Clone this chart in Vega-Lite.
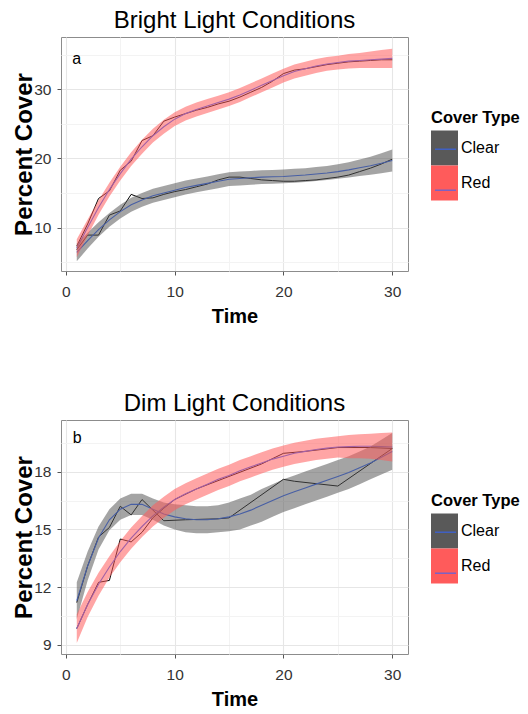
{
  "$schema": "https://vega.github.io/schema/vega-lite/v6.json",
  "background": "white",
  "padding": {"left": 12, "top": 8, "right": 5, "bottom": 4},
  "spacing": 64,
  "config": {
    "font": "Liberation Sans",
    "view": {"stroke": "#8c8c8c", "strokeWidth": 1},
    "axis": {
      "domain": false,
      "labelFont": "Liberation Sans",
      "labelFontSize": 15.5,
      "labelColor": "#333333",
      "tickColor": "#555555",
      "tickSize": 4,
      "labelFlush": false,
      "labelOverlap": false,
      "titleFont": "Liberation Sans",
      "titleFontWeight": "bold",
      "titleColor": "black",
      "gridWidth": 1.1
    },
    "title": {"font": "Liberation Sans", "fontSize": 24, "fontWeight": "normal", "color": "black", "anchor": "middle", "frame": "group", "offset": 4}
  },
  "datasets": {
    "rawA": [
      {"t": 1, "cover": "Clear", "v": 6.8}, {"t": 2, "cover": "Clear", "v": 8.9}, {"t": 3, "cover": "Clear", "v": 8.9}, {"t": 4, "cover": "Clear", "v": 11.8}, {"t": 5, "cover": "Clear", "v": 12.4}, {"t": 6, "cover": "Clear", "v": 14.8}, {"t": 7, "cover": "Clear", "v": 14.2}, {"t": 8, "cover": "Clear", "v": 14.3}, {"t": 9, "cover": "Clear", "v": 14.8}, {"t": 10, "cover": "Clear", "v": 15.2}, {"t": 11, "cover": "Clear", "v": 15.5}, {"t": 12, "cover": "Clear", "v": 15.9}, {"t": 13, "cover": "Clear", "v": 16.3}, {"t": 14, "cover": "Clear", "v": 16.9}, {"t": 15, "cover": "Clear", "v": 17.3}, {"t": 16, "cover": "Clear", "v": 17.3}, {"t": 17, "cover": "Clear", "v": 17.1}, {"t": 18, "cover": "Clear", "v": 16.9}, {"t": 19, "cover": "Clear", "v": 16.8}, {"t": 20, "cover": "Clear", "v": 16.7}, {"t": 21, "cover": "Clear", "v": 16.7}, {"t": 22, "cover": "Clear", "v": 16.8}, {"t": 23, "cover": "Clear", "v": 16.9}, {"t": 24, "cover": "Clear", "v": 17.1}, {"t": 25, "cover": "Clear", "v": 17.3}, {"t": 26, "cover": "Clear", "v": 17.6}, {"t": 27, "cover": "Clear", "v": 18.1}, {"t": 28, "cover": "Clear", "v": 18.6}, {"t": 29, "cover": "Clear", "v": 19.2}, {"t": 30, "cover": "Clear", "v": 19.9},
      {"t": 1, "cover": "Red", "v": 7.3}, {"t": 2, "cover": "Red", "v": 10.5}, {"t": 3, "cover": "Red", "v": 14.2}, {"t": 4, "cover": "Red", "v": 15.3}, {"t": 5, "cover": "Red", "v": 18.3}, {"t": 6, "cover": "Red", "v": 19.6}, {"t": 7, "cover": "Red", "v": 22.6}, {"t": 8, "cover": "Red", "v": 23.3}, {"t": 9, "cover": "Red", "v": 25.4}, {"t": 10, "cover": "Red", "v": 26.0}, {"t": 11, "cover": "Red", "v": 26.5}, {"t": 12, "cover": "Red", "v": 27.0}, {"t": 13, "cover": "Red", "v": 27.4}, {"t": 14, "cover": "Red", "v": 27.9}, {"t": 15, "cover": "Red", "v": 28.3}, {"t": 16, "cover": "Red", "v": 28.9}, {"t": 17, "cover": "Red", "v": 29.6}, {"t": 18, "cover": "Red", "v": 30.3}, {"t": 19, "cover": "Red", "v": 31.2}, {"t": 20, "cover": "Red", "v": 32.3}, {"t": 21, "cover": "Red", "v": 32.8}, {"t": 22, "cover": "Red", "v": 33.0}, {"t": 23, "cover": "Red", "v": 33.3}, {"t": 24, "cover": "Red", "v": 33.6}, {"t": 25, "cover": "Red", "v": 33.8}, {"t": 26, "cover": "Red", "v": 34.0}, {"t": 27, "cover": "Red", "v": 34.1}, {"t": 28, "cover": "Red", "v": 34.2}, {"t": 29, "cover": "Red", "v": 34.3}, {"t": 30, "cover": "Red", "v": 34.3}
    ],
    "fitA": [
      {"t": 1, "cover": "Clear", "fit": 6.4}, {"t": 2, "cover": "Clear", "fit": 8.1}, {"t": 3, "cover": "Clear", "fit": 9.7}, {"t": 4, "cover": "Clear", "fit": 11.1}, {"t": 5, "cover": "Clear", "fit": 12.3}, {"t": 6, "cover": "Clear", "fit": 13.3}, {"t": 7, "cover": "Clear", "fit": 14.0}, {"t": 8, "cover": "Clear", "fit": 14.6}, {"t": 9, "cover": "Clear", "fit": 15.0}, {"t": 10, "cover": "Clear", "fit": 15.4}, {"t": 11, "cover": "Clear", "fit": 15.8}, {"t": 12, "cover": "Clear", "fit": 16.1}, {"t": 13, "cover": "Clear", "fit": 16.4}, {"t": 14, "cover": "Clear", "fit": 16.7}, {"t": 15, "cover": "Clear", "fit": 17.0}, {"t": 16, "cover": "Clear", "fit": 17.1}, {"t": 17, "cover": "Clear", "fit": 17.2}, {"t": 18, "cover": "Clear", "fit": 17.3}, {"t": 19, "cover": "Clear", "fit": 17.35}, {"t": 20, "cover": "Clear", "fit": 17.4}, {"t": 21, "cover": "Clear", "fit": 17.5}, {"t": 22, "cover": "Clear", "fit": 17.6}, {"t": 23, "cover": "Clear", "fit": 17.75}, {"t": 24, "cover": "Clear", "fit": 17.9}, {"t": 25, "cover": "Clear", "fit": 18.1}, {"t": 26, "cover": "Clear", "fit": 18.35}, {"t": 27, "cover": "Clear", "fit": 18.65}, {"t": 28, "cover": "Clear", "fit": 18.95}, {"t": 29, "cover": "Clear", "fit": 19.3}, {"t": 30, "cover": "Clear", "fit": 19.7},
      {"t": 1, "cover": "Red", "fit": 7.0}, {"t": 2, "cover": "Red", "fit": 10.0}, {"t": 3, "cover": "Red", "fit": 12.9}, {"t": 4, "cover": "Red", "fit": 15.5}, {"t": 5, "cover": "Red", "fit": 17.8}, {"t": 6, "cover": "Red", "fit": 19.9}, {"t": 7, "cover": "Red", "fit": 21.7}, {"t": 8, "cover": "Red", "fit": 23.3}, {"t": 9, "cover": "Red", "fit": 24.6}, {"t": 10, "cover": "Red", "fit": 25.7}, {"t": 11, "cover": "Red", "fit": 26.5}, {"t": 12, "cover": "Red", "fit": 27.1}, {"t": 13, "cover": "Red", "fit": 27.6}, {"t": 14, "cover": "Red", "fit": 28.1}, {"t": 15, "cover": "Red", "fit": 28.6}, {"t": 16, "cover": "Red", "fit": 29.2}, {"t": 17, "cover": "Red", "fit": 29.9}, {"t": 18, "cover": "Red", "fit": 30.6}, {"t": 19, "cover": "Red", "fit": 31.3}, {"t": 20, "cover": "Red", "fit": 32.0}, {"t": 21, "cover": "Red", "fit": 32.6}, {"t": 22, "cover": "Red", "fit": 33.0}, {"t": 23, "cover": "Red", "fit": 33.4}, {"t": 24, "cover": "Red", "fit": 33.7}, {"t": 25, "cover": "Red", "fit": 33.9}, {"t": 26, "cover": "Red", "fit": 34.1}, {"t": 27, "cover": "Red", "fit": 34.2}, {"t": 28, "cover": "Red", "fit": 34.3}, {"t": 29, "cover": "Red", "fit": 34.4}, {"t": 30, "cover": "Red", "fit": 34.5}
    ],
    "ribbonA": [
      {"t": 1, "cover": "Clear", "lo": 5.1, "hi": 7.7}, {"t": 2, "cover": "Clear", "lo": 6.95, "hi": 9.25}, {"t": 3, "cover": "Clear", "lo": 8.65, "hi": 10.75}, {"t": 4, "cover": "Clear", "lo": 10.1, "hi": 12.1}, {"t": 5, "cover": "Clear", "lo": 11.3, "hi": 13.3}, {"t": 6, "cover": "Clear", "lo": 12.3, "hi": 14.3}, {"t": 7, "cover": "Clear", "lo": 13.0, "hi": 15.0}, {"t": 8, "cover": "Clear", "lo": 13.6, "hi": 15.6}, {"t": 9, "cover": "Clear", "lo": 14.0, "hi": 16.0}, {"t": 10, "cover": "Clear", "lo": 14.4, "hi": 16.4}, {"t": 11, "cover": "Clear", "lo": 14.8, "hi": 16.8}, {"t": 12, "cover": "Clear", "lo": 15.1, "hi": 17.1}, {"t": 13, "cover": "Clear", "lo": 15.4, "hi": 17.4}, {"t": 14, "cover": "Clear", "lo": 15.7, "hi": 17.7}, {"t": 15, "cover": "Clear", "lo": 16.0, "hi": 18.0}, {"t": 16, "cover": "Clear", "lo": 16.1, "hi": 18.1}, {"t": 17, "cover": "Clear", "lo": 16.2, "hi": 18.2}, {"t": 18, "cover": "Clear", "lo": 16.3, "hi": 18.3}, {"t": 19, "cover": "Clear", "lo": 16.35, "hi": 18.35}, {"t": 20, "cover": "Clear", "lo": 16.4, "hi": 18.4}, {"t": 21, "cover": "Clear", "lo": 16.5, "hi": 18.5}, {"t": 22, "cover": "Clear", "lo": 16.6, "hi": 18.6}, {"t": 23, "cover": "Clear", "lo": 16.75, "hi": 18.75}, {"t": 24, "cover": "Clear", "lo": 16.9, "hi": 18.9}, {"t": 25, "cover": "Clear", "lo": 17.05, "hi": 19.15}, {"t": 26, "cover": "Clear", "lo": 17.25, "hi": 19.45}, {"t": 27, "cover": "Clear", "lo": 17.45, "hi": 19.85}, {"t": 28, "cover": "Clear", "lo": 17.65, "hi": 20.25}, {"t": 29, "cover": "Clear", "lo": 17.85, "hi": 20.75}, {"t": 30, "cover": "Clear", "lo": 18.1, "hi": 21.3},
      {"t": 1, "cover": "Red", "lo": 5.7, "hi": 8.3}, {"t": 2, "cover": "Red", "lo": 8.85, "hi": 11.15}, {"t": 3, "cover": "Red", "lo": 11.85, "hi": 13.95}, {"t": 4, "cover": "Red", "lo": 14.5, "hi": 16.5}, {"t": 5, "cover": "Red", "lo": 16.8, "hi": 18.8}, {"t": 6, "cover": "Red", "lo": 18.9, "hi": 20.9}, {"t": 7, "cover": "Red", "lo": 20.7, "hi": 22.7}, {"t": 8, "cover": "Red", "lo": 22.3, "hi": 24.3}, {"t": 9, "cover": "Red", "lo": 23.6, "hi": 25.6}, {"t": 10, "cover": "Red", "lo": 24.7, "hi": 26.7}, {"t": 11, "cover": "Red", "lo": 25.5, "hi": 27.5}, {"t": 12, "cover": "Red", "lo": 26.1, "hi": 28.1}, {"t": 13, "cover": "Red", "lo": 26.6, "hi": 28.6}, {"t": 14, "cover": "Red", "lo": 27.1, "hi": 29.1}, {"t": 15, "cover": "Red", "lo": 27.6, "hi": 29.6}, {"t": 16, "cover": "Red", "lo": 28.2, "hi": 30.2}, {"t": 17, "cover": "Red", "lo": 28.9, "hi": 30.9}, {"t": 18, "cover": "Red", "lo": 29.6, "hi": 31.6}, {"t": 19, "cover": "Red", "lo": 30.3, "hi": 32.3}, {"t": 20, "cover": "Red", "lo": 31.0, "hi": 33.0}, {"t": 21, "cover": "Red", "lo": 31.6, "hi": 33.6}, {"t": 22, "cover": "Red", "lo": 32.0, "hi": 34.0}, {"t": 23, "cover": "Red", "lo": 32.4, "hi": 34.4}, {"t": 24, "cover": "Red", "lo": 32.7, "hi": 34.7}, {"t": 25, "cover": "Red", "lo": 32.9, "hi": 34.9}, {"t": 26, "cover": "Red", "lo": 33.05, "hi": 35.15}, {"t": 27, "cover": "Red", "lo": 33.1, "hi": 35.3}, {"t": 28, "cover": "Red", "lo": 33.1, "hi": 35.5}, {"t": 29, "cover": "Red", "lo": 33.1, "hi": 35.7}, {"t": 30, "cover": "Red", "lo": 33.1, "hi": 35.9}
    ],
    "labelA": [{"t": 1, "v": 34.4, "label": "a"}],
    "rawB": [
      {"t": 1, "cover": "Clear", "v": 11.2}, {"t": 2, "cover": "Clear", "v": 13.1}, {"t": 3, "cover": "Clear", "v": 14.6}, {"t": 4, "cover": "Clear", "v": 15.1}, {"t": 5, "cover": "Clear", "v": 16.2}, {"t": 6, "cover": "Clear", "v": 15.75}, {"t": 7, "cover": "Clear", "v": 16.55}, {"t": 9, "cover": "Clear", "v": 15.45}, {"t": 11, "cover": "Clear", "v": 15.5}, {"t": 14, "cover": "Clear", "v": 15.55}, {"t": 15, "cover": "Clear", "v": 15.6}, {"t": 20, "cover": "Clear", "v": 17.6}, {"t": 21, "cover": "Clear", "v": 17.5}, {"t": 25, "cover": "Clear", "v": 17.25}, {"t": 30, "cover": "Clear", "v": 19.2},
      {"t": 1, "cover": "Red", "v": 9.85}, {"t": 2, "cover": "Red", "v": 11.1}, {"t": 3, "cover": "Red", "v": 12.25}, {"t": 4, "cover": "Red", "v": 12.35}, {"t": 5, "cover": "Red", "v": 14.5}, {"t": 6, "cover": "Red", "v": 14.35}, {"t": 7, "cover": "Red", "v": 14.85}, {"t": 8, "cover": "Red", "v": 15.6}, {"t": 9, "cover": "Red", "v": 16.1}, {"t": 10, "cover": "Red", "v": 16.55}, {"t": 12, "cover": "Red", "v": 17.1}, {"t": 15, "cover": "Red", "v": 17.75}, {"t": 18, "cover": "Red", "v": 18.4}, {"t": 20, "cover": "Red", "v": 18.95}, {"t": 22, "cover": "Red", "v": 19.05}, {"t": 25, "cover": "Red", "v": 19.25}, {"t": 28, "cover": "Red", "v": 19.25}, {"t": 30, "cover": "Red", "v": 19.2}
    ],
    "fitB": [
      {"t": 1, "cover": "Clear", "fit": 11.3}, {"t": 2, "cover": "Clear", "fit": 13.1}, {"t": 3, "cover": "Clear", "fit": 14.55}, {"t": 4, "cover": "Clear", "fit": 15.5}, {"t": 5, "cover": "Clear", "fit": 16.05}, {"t": 6, "cover": "Clear", "fit": 16.3}, {"t": 7, "cover": "Clear", "fit": 16.3}, {"t": 8, "cover": "Clear", "fit": 16.05}, {"t": 9, "cover": "Clear", "fit": 15.8}, {"t": 10, "cover": "Clear", "fit": 15.65}, {"t": 11, "cover": "Clear", "fit": 15.55}, {"t": 12, "cover": "Clear", "fit": 15.5}, {"t": 13, "cover": "Clear", "fit": 15.5}, {"t": 14, "cover": "Clear", "fit": 15.55}, {"t": 15, "cover": "Clear", "fit": 15.65}, {"t": 16, "cover": "Clear", "fit": 15.8}, {"t": 17, "cover": "Clear", "fit": 16.0}, {"t": 18, "cover": "Clear", "fit": 16.25}, {"t": 19, "cover": "Clear", "fit": 16.5}, {"t": 20, "cover": "Clear", "fit": 16.75}, {"t": 21, "cover": "Clear", "fit": 16.95}, {"t": 22, "cover": "Clear", "fit": 17.15}, {"t": 23, "cover": "Clear", "fit": 17.35}, {"t": 24, "cover": "Clear", "fit": 17.55}, {"t": 25, "cover": "Clear", "fit": 17.75}, {"t": 26, "cover": "Clear", "fit": 17.95}, {"t": 27, "cover": "Clear", "fit": 18.2}, {"t": 28, "cover": "Clear", "fit": 18.45}, {"t": 29, "cover": "Clear", "fit": 18.75}, {"t": 30, "cover": "Clear", "fit": 19.05},
      {"t": 1, "cover": "Red", "fit": 9.85}, {"t": 2, "cover": "Red", "fit": 11.1}, {"t": 3, "cover": "Red", "fit": 12.15}, {"t": 4, "cover": "Red", "fit": 13.05}, {"t": 5, "cover": "Red", "fit": 13.85}, {"t": 6, "cover": "Red", "fit": 14.55}, {"t": 7, "cover": "Red", "fit": 15.15}, {"t": 8, "cover": "Red", "fit": 15.7}, {"t": 9, "cover": "Red", "fit": 16.15}, {"t": 10, "cover": "Red", "fit": 16.55}, {"t": 11, "cover": "Red", "fit": 16.85}, {"t": 12, "cover": "Red", "fit": 17.1}, {"t": 13, "cover": "Red", "fit": 17.35}, {"t": 14, "cover": "Red", "fit": 17.6}, {"t": 15, "cover": "Red", "fit": 17.8}, {"t": 16, "cover": "Red", "fit": 18.05}, {"t": 17, "cover": "Red", "fit": 18.25}, {"t": 18, "cover": "Red", "fit": 18.45}, {"t": 19, "cover": "Red", "fit": 18.65}, {"t": 20, "cover": "Red", "fit": 18.8}, {"t": 21, "cover": "Red", "fit": 18.95}, {"t": 22, "cover": "Red", "fit": 19.05}, {"t": 23, "cover": "Red", "fit": 19.15}, {"t": 24, "cover": "Red", "fit": 19.22}, {"t": 25, "cover": "Red", "fit": 19.28}, {"t": 26, "cover": "Red", "fit": 19.3}, {"t": 27, "cover": "Red", "fit": 19.32}, {"t": 28, "cover": "Red", "fit": 19.32}, {"t": 29, "cover": "Red", "fit": 19.3}, {"t": 30, "cover": "Red", "fit": 19.28}
    ],
    "ribbonB": [
      {"t": 1, "cover": "Clear", "lo": 10.35, "hi": 12.25}, {"t": 2, "cover": "Clear", "lo": 12.35, "hi": 13.85}, {"t": 3, "cover": "Clear", "lo": 13.95, "hi": 15.15}, {"t": 4, "cover": "Clear", "lo": 14.95, "hi": 16.05}, {"t": 5, "cover": "Clear", "lo": 15.5, "hi": 16.6}, {"t": 6, "cover": "Clear", "lo": 15.75, "hi": 16.85}, {"t": 7, "cover": "Clear", "lo": 15.75, "hi": 16.85}, {"t": 8, "cover": "Clear", "lo": 15.5, "hi": 16.6}, {"t": 9, "cover": "Clear", "lo": 15.2, "hi": 16.4}, {"t": 10, "cover": "Clear", "lo": 15.0, "hi": 16.3}, {"t": 11, "cover": "Clear", "lo": 14.85, "hi": 16.25}, {"t": 12, "cover": "Clear", "lo": 14.8, "hi": 16.2}, {"t": 13, "cover": "Clear", "lo": 14.8, "hi": 16.2}, {"t": 14, "cover": "Clear", "lo": 14.85, "hi": 16.25}, {"t": 15, "cover": "Clear", "lo": 14.9, "hi": 16.4}, {"t": 16, "cover": "Clear", "lo": 15.0, "hi": 16.6}, {"t": 17, "cover": "Clear", "lo": 15.2, "hi": 16.8}, {"t": 18, "cover": "Clear", "lo": 15.4, "hi": 17.1}, {"t": 19, "cover": "Clear", "lo": 15.65, "hi": 17.35}, {"t": 20, "cover": "Clear", "lo": 15.9, "hi": 17.6}, {"t": 21, "cover": "Clear", "lo": 16.1, "hi": 17.8}, {"t": 22, "cover": "Clear", "lo": 16.3, "hi": 18.0}, {"t": 23, "cover": "Clear", "lo": 16.5, "hi": 18.2}, {"t": 24, "cover": "Clear", "lo": 16.7, "hi": 18.4}, {"t": 25, "cover": "Clear", "lo": 16.9, "hi": 18.6}, {"t": 26, "cover": "Clear", "lo": 17.1, "hi": 18.8}, {"t": 27, "cover": "Clear", "lo": 17.35, "hi": 19.05}, {"t": 28, "cover": "Clear", "lo": 17.6, "hi": 19.3}, {"t": 29, "cover": "Clear", "lo": 17.85, "hi": 19.65}, {"t": 30, "cover": "Clear", "lo": 18.1, "hi": 20.0},
      {"t": 1, "cover": "Red", "lo": 9.1, "hi": 10.6}, {"t": 2, "cover": "Red", "lo": 10.45, "hi": 11.75}, {"t": 3, "cover": "Red", "lo": 11.55, "hi": 12.75}, {"t": 4, "cover": "Red", "lo": 12.5, "hi": 13.6}, {"t": 5, "cover": "Red", "lo": 13.3, "hi": 14.4}, {"t": 6, "cover": "Red", "lo": 14.0, "hi": 15.1}, {"t": 7, "cover": "Red", "lo": 14.6, "hi": 15.7}, {"t": 8, "cover": "Red", "lo": 15.15, "hi": 16.25}, {"t": 9, "cover": "Red", "lo": 15.6, "hi": 16.7}, {"t": 10, "cover": "Red", "lo": 16.0, "hi": 17.1}, {"t": 11, "cover": "Red", "lo": 16.3, "hi": 17.4}, {"t": 12, "cover": "Red", "lo": 16.55, "hi": 17.65}, {"t": 13, "cover": "Red", "lo": 16.8, "hi": 17.9}, {"t": 14, "cover": "Red", "lo": 17.05, "hi": 18.15}, {"t": 15, "cover": "Red", "lo": 17.25, "hi": 18.35}, {"t": 16, "cover": "Red", "lo": 17.5, "hi": 18.6}, {"t": 17, "cover": "Red", "lo": 17.7, "hi": 18.8}, {"t": 18, "cover": "Red", "lo": 17.9, "hi": 19.0}, {"t": 19, "cover": "Red", "lo": 18.1, "hi": 19.2}, {"t": 20, "cover": "Red", "lo": 18.25, "hi": 19.35}, {"t": 21, "cover": "Red", "lo": 18.4, "hi": 19.5}, {"t": 22, "cover": "Red", "lo": 18.5, "hi": 19.6}, {"t": 23, "cover": "Red", "lo": 18.6, "hi": 19.7}, {"t": 24, "cover": "Red", "lo": 18.67, "hi": 19.77}, {"t": 25, "cover": "Red", "lo": 18.73, "hi": 19.83}, {"t": 26, "cover": "Red", "lo": 18.7, "hi": 19.9}, {"t": 27, "cover": "Red", "lo": 18.7, "hi": 19.94}, {"t": 28, "cover": "Red", "lo": 18.67, "hi": 19.97}, {"t": 29, "cover": "Red", "lo": 18.6, "hi": 20.0}, {"t": 30, "cover": "Red", "lo": 18.53, "hi": 20.03}
    ],
    "labelB": [{"t": 1.04, "v": 19.75, "label": "b"}]
  },
  "resolve": {"scale": {"fill": "independent", "stroke": "independent"}},
  "vconcat": [
    {
      "title": {"text": "Bright Light Conditions"},
      "width": 347,
      "height": 234,
      "encoding": {
        "x": {"field": "t", "type": "quantitative", "scale": {"domain": [-0.45, 31.45], "nice": false, "zero": false},
          "axis": {"title": "Time", "values": [0, 5, 10, 15, 20, 25, 30], "labelExpr": "datum.value % 10 === 0 ? datum.label : ''",
            "tickOpacity": {"condition": {"test": "datum.value % 10 === 0", "value": 1}, "value": 0},
            "gridColor": {"condition": {"test": "datum.value % 10 === 0", "value": "#e6e6e6"}, "value": "#f3f3f3"},
            "labelPadding": 9, "titlePadding": 7, "titleFontSize": 20}}
      },
      "layer": [
        {"data": {"name": "rawA"}, "mark": {"type": "line", "color": "black", "strokeWidth": 1},
          "encoding": {"y": {"field": "v", "type": "quantitative", "scale": {"domain": [3.7, 37.6], "nice": false, "zero": false},
            "axis": {"title": "Percent Cover", "values": [5, 10, 15, 20, 25, 30, 35], "labelExpr": "(datum.value === 10 || datum.value === 20 || datum.value === 30) ? datum.label : ''",
              "tickOpacity": {"condition": {"test": "datum.value === 10 || datum.value === 20 || datum.value === 30", "value": 1}, "value": 0},
              "gridColor": {"condition": {"test": "datum.value === 10 || datum.value === 20 || datum.value === 30", "value": "#e6e6e6"}, "value": "#f3f3f3"},
              "labelPadding": 6, "titlePadding": -3, "titleFontSize": 24}},
            "detail": {"field": "cover"}}},
        {"data": {"name": "fitA"}, "mark": {"type": "line", "strokeWidth": 1.1},
          "encoding": {"y": {"field": "fit", "type": "quantitative", "scale": {"domain": [3.7, 37.6], "nice": false, "zero": false},
            "axis": {"title": "Percent Cover", "values": [5, 10, 15, 20, 25, 30, 35], "labelExpr": "(datum.value === 10 || datum.value === 20 || datum.value === 30) ? datum.label : ''",
              "tickOpacity": {"condition": {"test": "datum.value === 10 || datum.value === 20 || datum.value === 30", "value": 1}, "value": 0},
              "gridColor": {"condition": {"test": "datum.value === 10 || datum.value === 20 || datum.value === 30", "value": "#e6e6e6"}, "value": "#f3f3f3"},
              "labelPadding": 6, "titlePadding": -3, "titleFontSize": 24}},
            "stroke": {"field": "cover", "type": "nominal", "scale": {"range": ["#3366FF", "#3366FF"]},
              "legend": {"title": null, "orient": "none", "legendX": 370, "legendY": 93.7, "zindex": 5, "symbolType": "M-0.83,-1M-0.83,1M-0.83,0H0.37", "symbolSize": 1225, "symbolStrokeWidth": 1.3, "symbolFillColor": "transparent", "symbolOpacity": 0.75, "rowPadding": 0, "padding": 0, "labelExpr": "''"}}}},
        {"data": {"name": "ribbonA"}, "mark": {"type": "area", "opacity": 0.55},
          "encoding": {"y": {"field": "lo", "type": "quantitative", "scale": {"domain": [3.7, 37.6], "nice": false, "zero": false},
            "axis": {"title": "Percent Cover", "values": [5, 10, 15, 20, 25, 30, 35], "labelExpr": "(datum.value === 10 || datum.value === 20 || datum.value === 30) ? datum.label : ''",
              "tickOpacity": {"condition": {"test": "datum.value === 10 || datum.value === 20 || datum.value === 30", "value": 1}, "value": 0},
              "gridColor": {"condition": {"test": "datum.value === 10 || datum.value === 20 || datum.value === 30", "value": "#e6e6e6"}, "value": "#f3f3f3"},
              "labelPadding": 6, "titlePadding": -3, "titleFontSize": 24}},
            "y2": {"field": "hi"},
            "fill": {"field": "cover", "type": "nominal", "scale": {"range": ["#595959", "#FF5B5B"]},
              "legend": {"title": "Cover Type", "orient": "none", "legendX": 370, "legendY": 73, "zindex": 1, "symbolType": "M-1,-1H0.543V1H-1Z", "symbolSize": 1225, "symbolStrokeWidth": 0, "symbolOpacity": 1, "rowPadding": 0, "padding": 0, "labelOffset": -5, "titlePadding": 4, "labelFont": "Liberation Sans", "labelFontSize": 16, "labelColor": "black", "titleFont": "Liberation Sans", "titleFontSize": 16.5, "titleFontWeight": "bold", "titleColor": "black"}}}},
        {"data": {"name": "labelA"}, "mark": {"type": "text", "fontSize": 16, "color": "black", "font": "Liberation Sans"},
          "encoding": {"x": {"field": "t", "type": "quantitative"},
            "y": {"field": "v", "type": "quantitative", "scale": {"domain": [3.7, 37.6], "nice": false, "zero": false},
              "axis": {"title": "Percent Cover", "values": [5, 10, 15, 20, 25, 30, 35], "labelExpr": "(datum.value === 10 || datum.value === 20 || datum.value === 30) ? datum.label : ''",
                "tickOpacity": {"condition": {"test": "datum.value === 10 || datum.value === 20 || datum.value === 30", "value": 1}, "value": 0},
                "gridColor": {"condition": {"test": "datum.value === 10 || datum.value === 20 || datum.value === 30", "value": "#e6e6e6"}, "value": "#f3f3f3"},
                "labelPadding": 6, "titlePadding": -3, "titleFontSize": 24}},
            "text": {"field": "label"}}}
      ]
    },
    {
      "title": {"text": "Dim Light Conditions"},
      "width": 347,
      "height": 234,
      "encoding": {
        "x": {"field": "t", "type": "quantitative", "scale": {"domain": [-0.45, 31.45], "nice": false, "zero": false},
          "axis": {"title": "Time", "values": [0, 5, 10, 15, 20, 25, 30], "labelExpr": "datum.value % 10 === 0 ? datum.label : ''",
            "tickOpacity": {"condition": {"test": "datum.value % 10 === 0", "value": 1}, "value": 0},
            "gridColor": {"condition": {"test": "datum.value % 10 === 0", "value": "#e6e6e6"}, "value": "#f3f3f3"},
            "labelPadding": 9, "titlePadding": 7, "titleFontSize": 20}}
      },
      "layer": [
        {"data": {"name": "rawB"}, "mark": {"type": "line", "color": "black", "strokeWidth": 1},
          "encoding": {"y": {"field": "v", "type": "quantitative", "scale": {"domain": [8.53, 20.68], "nice": false, "zero": false},
            "axis": {"title": "Percent Cover", "values": [9, 10.5, 12, 13.5, 15, 16.5, 18, 19.5], "labelExpr": "datum.value % 3 === 0 ? datum.label : ''",
              "tickOpacity": {"condition": {"test": "datum.value % 3 === 0", "value": 1}, "value": 0},
              "gridColor": {"condition": {"test": "datum.value % 3 === 0", "value": "#e6e6e6"}, "value": "#f3f3f3"},
              "labelPadding": 6, "titlePadding": -3, "titleFontSize": 24}},
            "detail": {"field": "cover"}}},
        {"data": {"name": "fitB"}, "mark": {"type": "line", "strokeWidth": 1.1},
          "encoding": {"y": {"field": "fit", "type": "quantitative", "scale": {"domain": [8.53, 20.68], "nice": false, "zero": false},
            "axis": {"title": "Percent Cover", "values": [9, 10.5, 12, 13.5, 15, 16.5, 18, 19.5], "labelExpr": "datum.value % 3 === 0 ? datum.label : ''",
              "tickOpacity": {"condition": {"test": "datum.value % 3 === 0", "value": 1}, "value": 0},
              "gridColor": {"condition": {"test": "datum.value % 3 === 0", "value": "#e6e6e6"}, "value": "#f3f3f3"},
              "labelPadding": 6, "titlePadding": -3, "titleFontSize": 24}},
            "stroke": {"field": "cover", "type": "nominal", "scale": {"range": ["#3366FF", "#3366FF"]},
              "legend": {"title": null, "orient": "none", "legendX": 370, "legendY": 93.7, "zindex": 5, "symbolType": "M-0.83,-1M-0.83,1M-0.83,0H0.37", "symbolSize": 1225, "symbolStrokeWidth": 1.3, "symbolFillColor": "transparent", "symbolOpacity": 0.75, "rowPadding": 0, "padding": 0, "labelExpr": "''"}}}},
        {"data": {"name": "ribbonB"}, "mark": {"type": "area", "opacity": 0.55},
          "encoding": {"y": {"field": "lo", "type": "quantitative", "scale": {"domain": [8.53, 20.68], "nice": false, "zero": false},
            "axis": {"title": "Percent Cover", "values": [9, 10.5, 12, 13.5, 15, 16.5, 18, 19.5], "labelExpr": "datum.value % 3 === 0 ? datum.label : ''",
              "tickOpacity": {"condition": {"test": "datum.value % 3 === 0", "value": 1}, "value": 0},
              "gridColor": {"condition": {"test": "datum.value % 3 === 0", "value": "#e6e6e6"}, "value": "#f3f3f3"},
              "labelPadding": 6, "titlePadding": -3, "titleFontSize": 24}},
            "y2": {"field": "hi"},
            "fill": {"field": "cover", "type": "nominal", "scale": {"range": ["#595959", "#FF5B5B"]},
              "legend": {"title": "Cover Type", "orient": "none", "legendX": 370, "legendY": 73, "zindex": 1, "symbolType": "M-1,-1H0.543V1H-1Z", "symbolSize": 1225, "symbolStrokeWidth": 0, "symbolOpacity": 1, "rowPadding": 0, "padding": 0, "labelOffset": -5, "titlePadding": 4, "labelFont": "Liberation Sans", "labelFontSize": 16, "labelColor": "black", "titleFont": "Liberation Sans", "titleFontSize": 16.5, "titleFontWeight": "bold", "titleColor": "black"}}}},
        {"data": {"name": "labelB"}, "mark": {"type": "text", "fontSize": 16, "color": "black", "font": "Liberation Sans"},
          "encoding": {"x": {"field": "t", "type": "quantitative"},
            "y": {"field": "v", "type": "quantitative", "scale": {"domain": [8.53, 20.68], "nice": false, "zero": false},
              "axis": {"title": "Percent Cover", "values": [9, 10.5, 12, 13.5, 15, 16.5, 18, 19.5], "labelExpr": "datum.value % 3 === 0 ? datum.label : ''",
                "tickOpacity": {"condition": {"test": "datum.value % 3 === 0", "value": 1}, "value": 0},
                "gridColor": {"condition": {"test": "datum.value % 3 === 0", "value": "#e6e6e6"}, "value": "#f3f3f3"},
                "labelPadding": 6, "titlePadding": -3, "titleFontSize": 24}},
            "text": {"field": "label"}}}
      ]
    }
  ]
}
